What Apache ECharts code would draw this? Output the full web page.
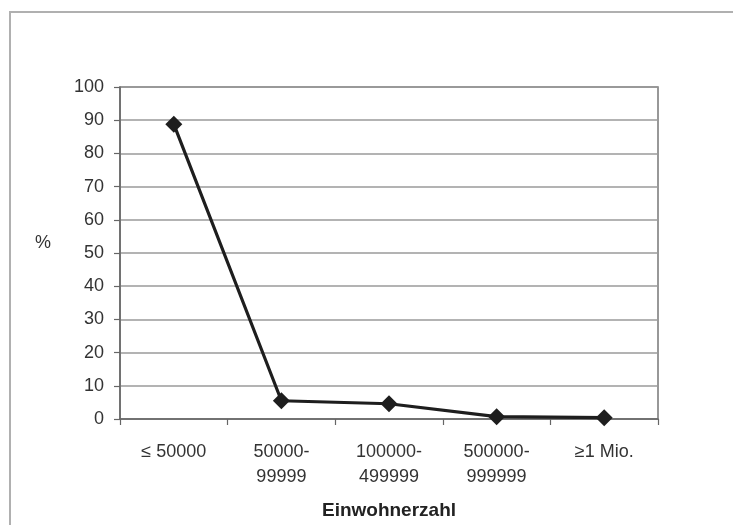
<!DOCTYPE html>
<html>
<head>
<meta charset="utf-8">
<script src="https://cdn.jsdelivr.net/npm/echarts@6/dist/echarts.min.js"></script>
<style>
  html, body { margin: 0; padding: 0; background: #ffffff; }
  #chart { width: 733px; height: 525px; }
</style>
</head>
<body>
<div id="chart"></div>
<script>
// Population size classes (Einwohnerzahl) and share in percent
const categories = ['≤ 50000', '50000-\n99999', '100000-\n499999', '500000-\n999999', '≥1 Mio.'];
const shares = [88.8, 5.5, 4.6, 0.7, 0.4];
const yTicks = { min: 0, max: 100, interval: 10 };

const chart = echarts.init(document.getElementById('chart'), null, { renderer: 'canvas' });

const textColor = '#333333';
const fontFamily = 'Liberation Sans, Arial, sans-serif';

chart.setOption({
  backgroundColor: '#ffffff',
  animation: false,
  graphic: [
    {
      type: 'rect',
      shape: { x: 10, y: 12, width: 760, height: 560 },
      style: { fill: 'none', stroke: '#b0b0b0', lineWidth: 2 },
      silent: true
    },
    {
      type: 'text',
      left: 35,
      top: 234,
      style: { text: '%', fill: textColor, font: '18px ' + fontFamily }
    }
  ],
  grid: {
    left: 120,
    top: 87,
    width: 538,
    height: 332,
    show: true,
    borderColor: '#777777',
    borderWidth: 1.5,
    backgroundColor: '#ffffff'
  },
  xAxis: {
    type: 'category',
    data: categories,
    boundaryGap: true,
    name: 'Einwohnerzahl',
    nameLocation: 'middle',
    nameGap: 82,
    nameTextStyle: { color: '#222222', fontSize: 19, fontWeight: 'bold', fontFamily: fontFamily },
    axisLine: { show: true, lineStyle: { color: '#666666', width: 1.5 } },
    axisTick: { show: true, length: 6, alignWithLabel: false, lineStyle: { color: '#666666', width: 1.2 } },
    axisLabel: { color: textColor, fontSize: 18, fontFamily: fontFamily, margin: 21, lineHeight: 25 },
    splitLine: { show: false }
  },
  yAxis: {
    type: 'value',
    min: yTicks.min,
    max: yTicks.max,
    interval: yTicks.interval,
    axisLine: { show: true, lineStyle: { color: '#666666', width: 1.5 } },
    axisTick: { show: true, length: 6, lineStyle: { color: '#666666', width: 1.2 } },
    axisLabel: { color: textColor, fontSize: 18, fontFamily: fontFamily, margin: 16 },
    splitLine: { show: true, lineStyle: { color: '#9a9a9a', width: 1.5 } }
  },
  series: [
    {
      type: 'line',
      data: shares,
      symbol: 'diamond',
      symbolSize: [17, 17],
      lineStyle: { color: '#1e1e1e', width: 3.2 },
      itemStyle: { color: '#1e1e1e', borderWidth: 0 },
      z: 5
    }
  ]
});
</script>
</body>
</html>
